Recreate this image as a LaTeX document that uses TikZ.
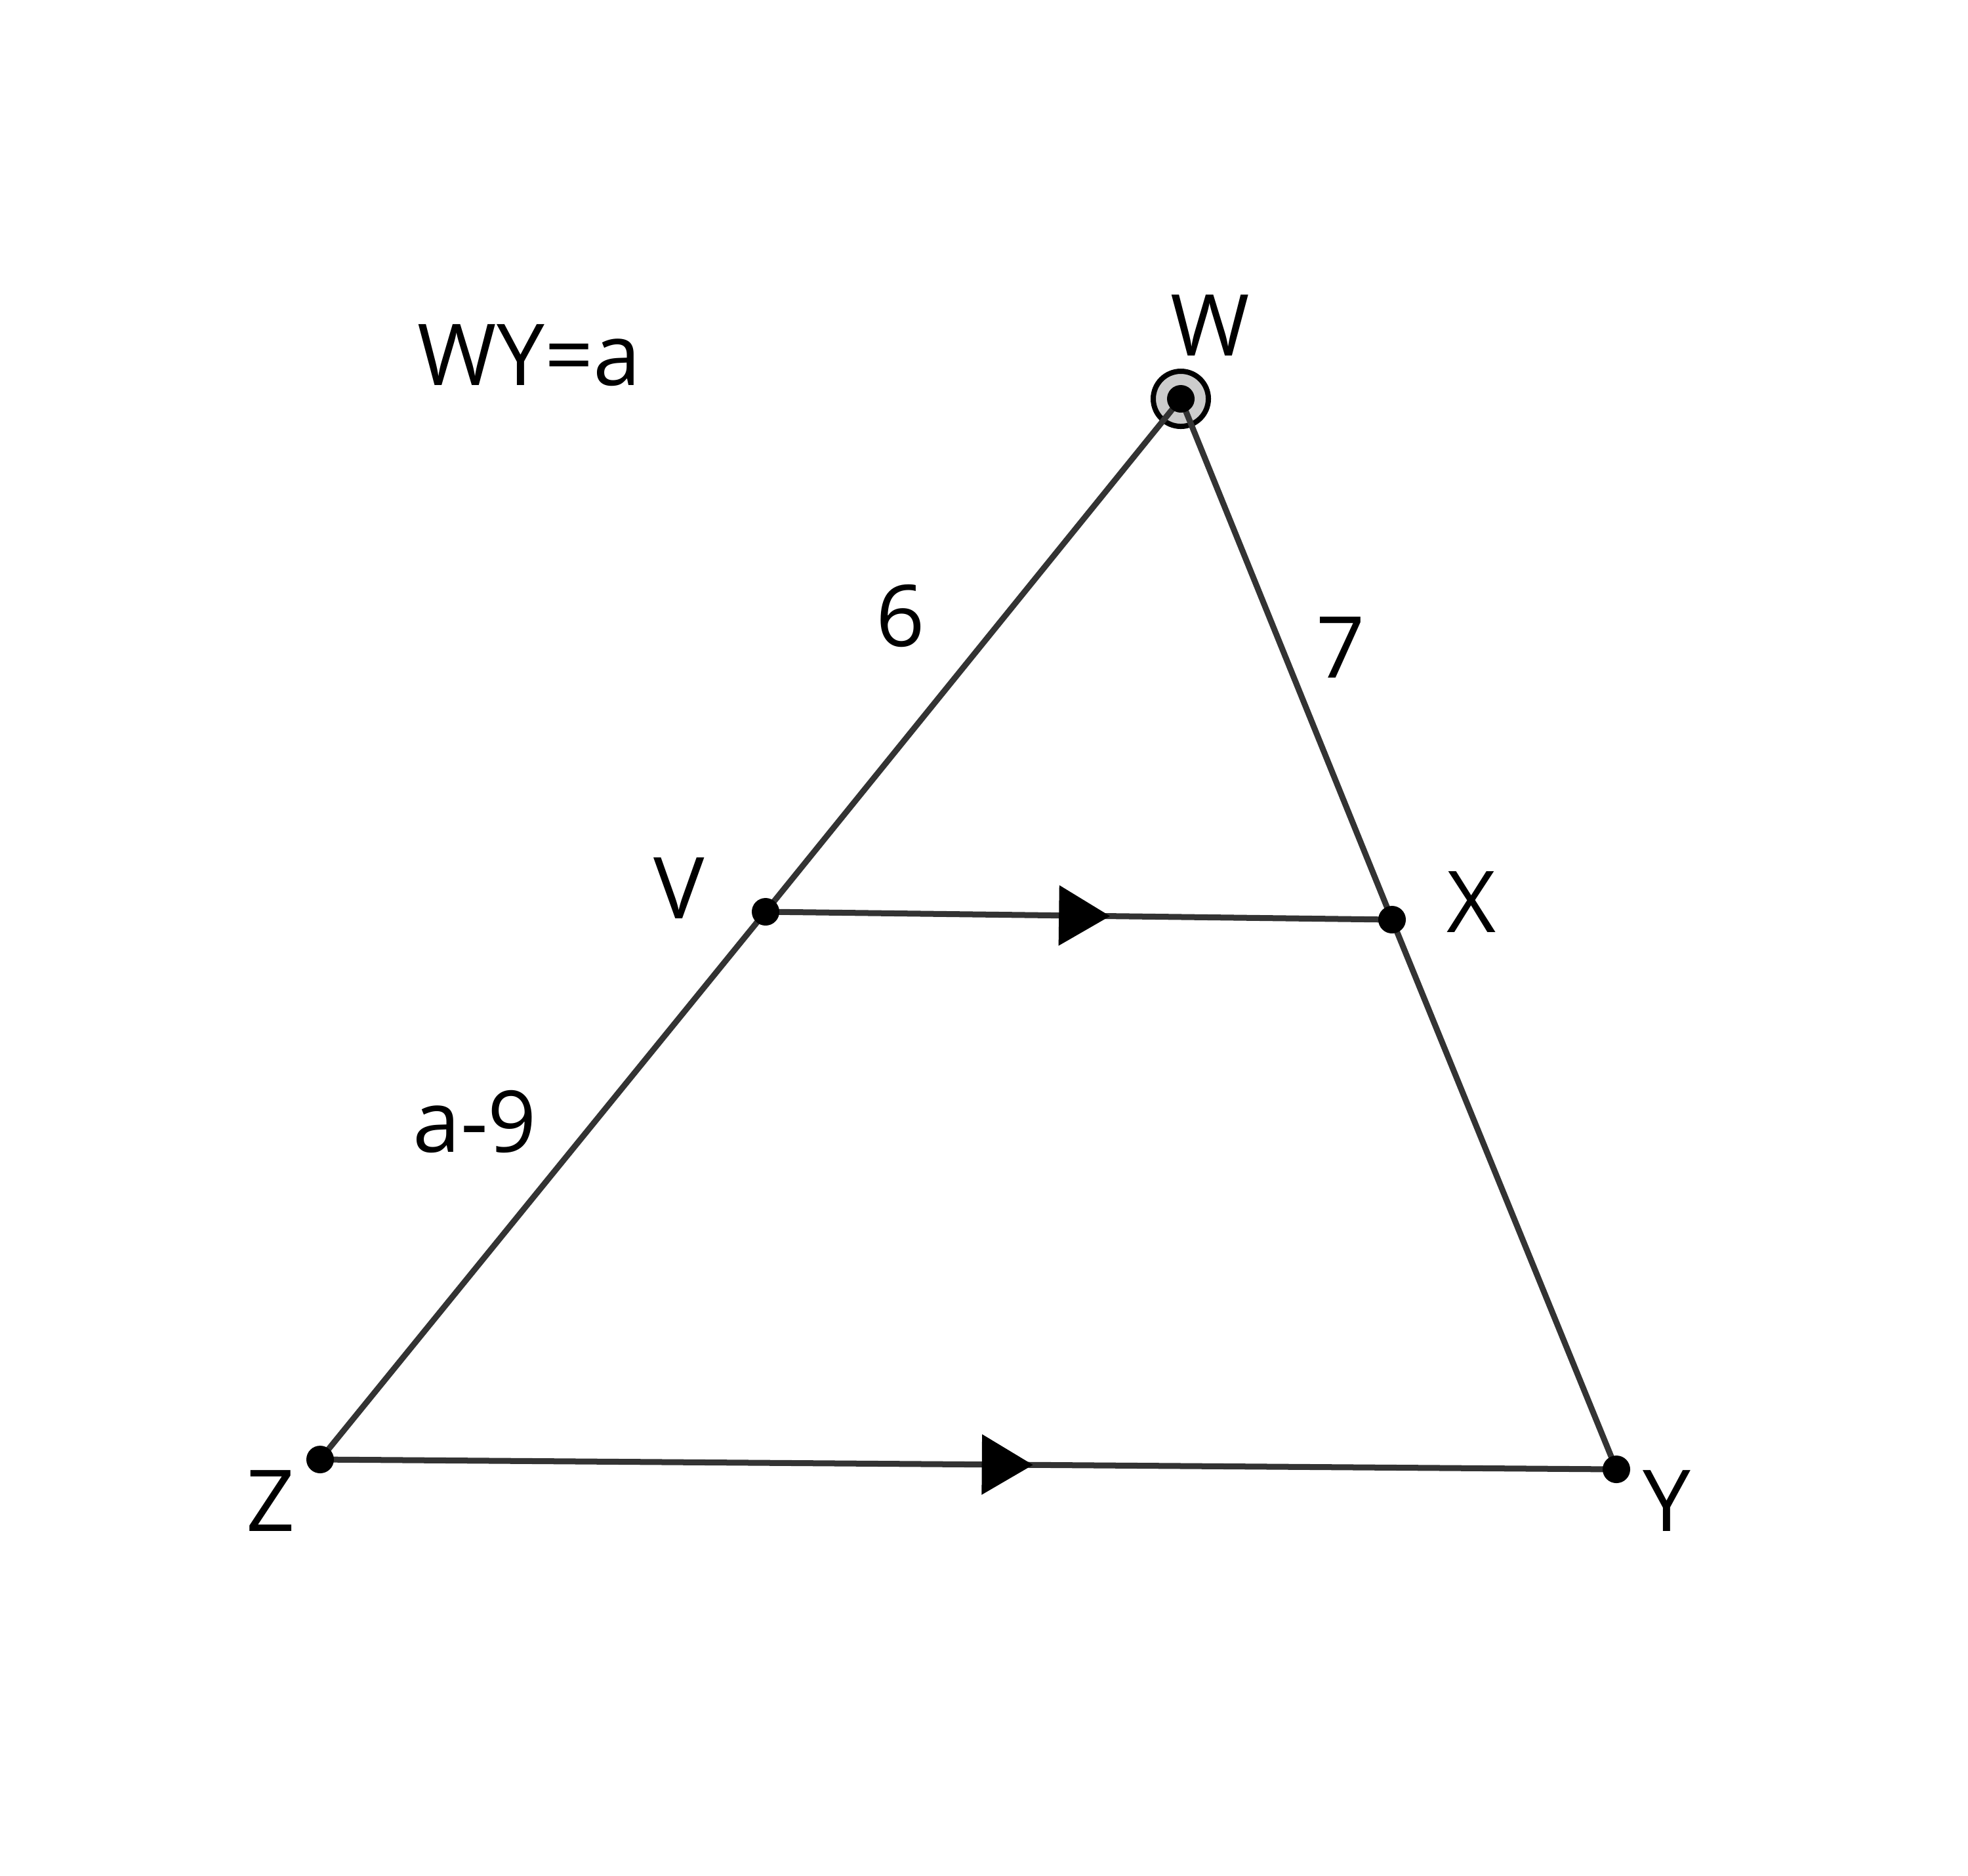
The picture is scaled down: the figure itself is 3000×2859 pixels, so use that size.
\documentclass[tikz,border=0pt]{standalone}
\usepackage{fontspec}
\setmainfont{Open Sans}
\usepackage{tikz}
\usetikzlibrary{arrows.meta, decorations.markings}
\tikzset{
  pt/.style={
    circle, fill=black, inner sep=0pt,
    minimum size=0.42cm
  },
  ring/.style={
    circle, draw=black, fill=black!20,
    line width=0.08cm, inner sep=0pt,
    minimum size=0.84cm
  },
  side/.style={draw=black!80, line width=0.09cm},
  par/.style={
    side,
    decoration={markings,
      mark=at position 0.55 with {\arrow[black]{Triangle[length=0.78cm, width=0.9cm]}}},
    postaction={decorate}
  },
  lbl/.style={anchor=base, font=\fontsize{37}{44}\selectfont, inner sep=0pt},
}
\begin{document}
\begin{tikzpicture}[x=0.01cm, y=-0.01cm]
        \useasboundingbox (0,0) rectangle (3000,2859);
        % ring round the top vertex
        \node[ring] (Wring) at (1800, 608) {};
        \coordinate (Wc) at (1800, 608);
        \coordinate (Vc) at (1167, 1390);
        \coordinate (Xc) at (2122, 1402);
        \coordinate (Zc) at (488, 2225);
        \coordinate (Yc) at (2464, 2240);
        \draw[side] (Zc) -- (Vc) -- (Wc) -- (Xc) -- (Yc);
        \draw[par]  (Vc) -- (Xc);
        \draw[par]  (Zc) -- (Yc);
        \node[pt] (W) at (Wc) {};
        \node[pt] (V) at (Vc) {};
        \node[pt] (X) at (Xc) {};
        \node[pt] (Z) at (Zc) {};
        \node[pt] (Y) at (Yc) {};
        % labels
        \node[lbl] (lW)  at (1845, 542)  {W};
        \node[lbl] (lV)  at (1035, 1400) {V};
        \node[lbl] (lX)  at (2243, 1421) {X};
        \node[lbl] (lZ)  at (413, 2334)  {Z};
        \node[lbl] (lY)  at (2541, 2334) {Y};
        \node[lbl] (l6)  at (1373, 985)  {6};
        \node[lbl] (l7)  at (2044, 1033) {7};
        \node[lbl] (lam) at (724, 1756)  {a-9};
        \node[lbl] (eq)  at (807, 587)   {WY=a};
      \end{tikzpicture}
\end{document}
